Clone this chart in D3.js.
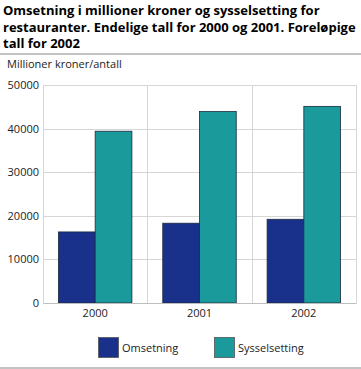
<!DOCTYPE html>
<html><head><meta charset="utf-8">
<script src="https://cdn.jsdelivr.net/npm/d3@7"></script>
<style>body{margin:0;background:#fff}svg{display:block;font-family:"Open Sans",sans-serif}</style>
</head><body><svg id="c" width="361" height="369"></svg>
<script>
const categories = ["2000", "2001", "2002"];
const seriesNames = ["Omsetning", "Sysselsetting"];
const omsetning = [16300, 18300, 19200];
const sysselsetting = [39400, 43900, 45100];
const yTicks = [0, 10000, 20000, 30000, 40000, 50000];
const titleLines = ["Omsetning i millioner kroner og sysselsetting for", "restauranter. Endelige tall for 2000 og 2001. Foreløpige", "tall for 2002"];
const yLabel = "Millioner kroner/antall";
const colors = ["#1a318c", "#1a9a9a"];

const svg = d3.select("#c");
const m = {l: 43, r: 356, t: 85, b: 303};
const x = d3.scaleBand().domain(categories).range([m.l, m.r]).paddingInner(0).paddingOuter(0);
const x1 = d3.scaleBand().domain(seriesNames).range([0, x.bandwidth()]).paddingInner(0).paddingOuter(0.42);
const y = d3.scaleLinear().domain([0, 50000]).range([m.b, m.t]);

// title
svg.append("g").selectAll("text").data(titleLines).join("text")
  .attr("x", 3).attr("y", (d, i) => 15 + i * 16.5)
  .attr("font-weight", "bold").attr("font-size", 13).attr("fill", "#000").text(d => d);
svg.append("rect").attr("x", 0).attr("y", 53).attr("width", 361).attr("height", 2).attr("fill", "#c3c3c3");
svg.append("text").attr("x", 7).attr("y", 68).attr("font-size", 11).attr("fill", "#222").text(yLabel);

// grid
const grid = svg.append("g");
grid.selectAll("line.h").data(yTicks).join("line").attr("class", "h")
  .attr("x1", m.l).attr("x2", m.r).attr("y1", d => Math.round(y(d)) + 0.5).attr("y2", d => Math.round(y(d)) + 0.5)
  .attr("stroke", "#d6d6d6");
const vlines = categories.map(c => x(c)).concat([m.r]);
grid.selectAll("line.v").data(vlines).join("line").attr("class", "v")
  .attr("x1", d => Math.round(d) + 0.5).attr("x2", d => Math.round(d) + 0.5).attr("y1", m.t).attr("y2", m.b)
  .attr("stroke", "#d6d6d6");

// y axis labels
const yAxis = d3.axisLeft(y).tickValues(yTicks).tickSize(0).tickPadding(4).tickFormat(d3.format("d"));
const ya = svg.append("g").attr("transform", `translate(${m.l},0)`).call(yAxis);
ya.select(".domain").remove();
ya.selectAll("text").attr("font-size", 11).attr("fill", "#222").attr("font-family", "Open Sans, sans-serif");

// bars
const data = categories.map((c, i) => ({c, vals: [omsetning[i], sysselsetting[i]]}));
const g = svg.append("g");
data.forEach(d => {
  d.vals.forEach((v, j) => {
    g.append("rect")
      .attr("x", x(d.c) + x1(seriesNames[j]))
      .attr("y", y(v))
      .attr("width", x1.bandwidth())
      .attr("height", y(0) - y(v))
      .attr("fill", colors[j]).attr("stroke", "#1a2a40").attr("stroke-width", 0.8);
  });
});

// x axis
const xAxis = d3.axisBottom(x).tickSize(0).tickPadding(6);
const xa = svg.append("g").attr("transform", `translate(0,${m.b})`).call(xAxis);
xa.select(".domain").attr("stroke", "#bdbdbd");
xa.selectAll("text").attr("font-size", 11).attr("fill", "#222").attr("font-family", "Open Sans, sans-serif");

// legend
const legX = [98, 214];
const lg = svg.append("g");
seriesNames.forEach((s, i) => {
  lg.append("rect").attr("x", legX[i] + 0.5).attr("y", 337.5).attr("width", 20).attr("height", 20)
    .attr("fill", colors[i]).attr("stroke", "#555").attr("stroke-width", 0.8);
  lg.append("text").attr("x", legX[i] + 24).attr("y", 352).attr("font-size", 11).attr("fill", "#222").text(s);
});
svg.append("rect").attr("x", 0).attr("y", 367).attr("width", 361).attr("height", 2).attr("fill", "#c3c3c3");
</script></body></html>
